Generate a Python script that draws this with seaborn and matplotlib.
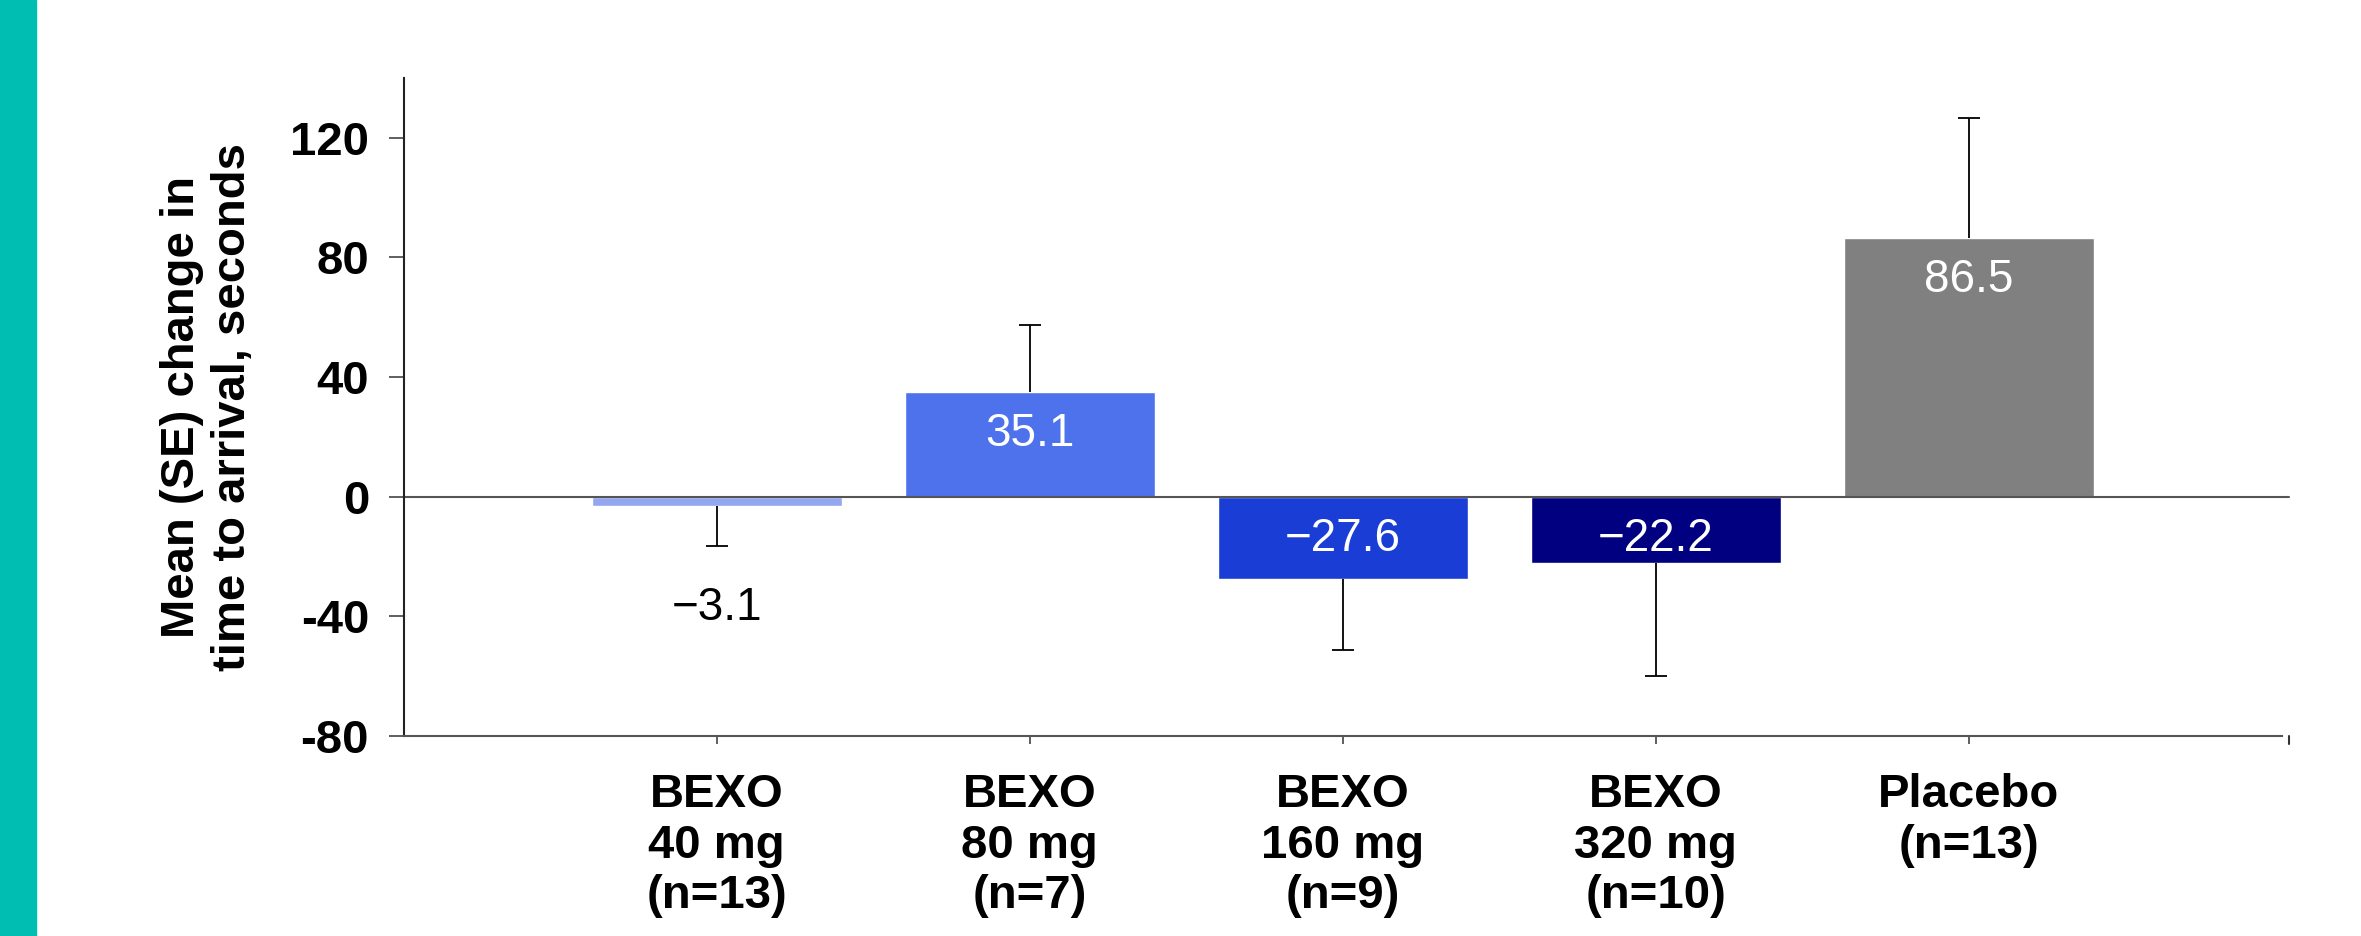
import matplotlib
matplotlib.use("Agg")
import matplotlib.pyplot as plt
import seaborn as sns
import pandas as pd

# data
groups = ["BEXO\n40 mg\n(n=13)", "BEXO\n80 mg\n(n=7)", "BEXO\n160 mg\n(n=9)",
          "BEXO\n320 mg\n(n=10)", "Placebo\n(n=13)"]
means = [-3.1, 35.1, -27.6, -22.2, 86.5]
se = [13.5, 22.2, 23.7, 37.6, 40.1]
bar_colors = ["#94A6F0", "#4E72EC", "#1A3DD6", "#000080", "#808080"]
label_colors = ["black", "white", "white", "white", "white"]

df = pd.DataFrame({"group": groups, "mean": means, "se": se})

sns.set_style("white")
plt.rcParams["font.family"] = ["Liberation Sans", "DejaVu Sans"]
plt.rcParams["text.color"] = "black"
plt.rcParams["axes.labelcolor"] = "black"
plt.rcParams["xtick.color"] = "black"
plt.rcParams["ytick.color"] = "black"

fig = plt.figure(figsize=(23.61, 9.36), dpi=100)
ax = fig.add_axes([0.171, 0.2137, 0.7955, 0.703])

sns.barplot(data=df, x="group", y="mean", hue="group", palette=bar_colors,
            legend=False, width=0.8, saturation=1, errorbar=None, ax=ax)

# one-sided SE bars, pointing away from zero, cap only at the far end
for i, (m, s) in enumerate(zip(means, se)):
    end = m + s if m >= 0 else m - s
    ax.vlines(i, m, end, color="black", lw=1.3, zorder=3)
    ax.plot(i, end, marker="_", markersize=16, mew=1.3, color="black", zorder=3)

# value labels
for i, m in enumerate(means):
    if i == 0:
        y = m - 34
    elif m >= 0:
        y = m - 14
    else:
        y = -14
    ax.text(i, y, f"{m:.1f}".replace("-", "\u2212"), ha="center", va="center",
            fontsize=33, color=label_colors[i])

# zero line with a small end tick
ax.axhline(0, xmin=0, xmax=1.004, color="#555555", lw=1.5, clip_on=False, zorder=2)
ax.plot([1.004, 1.004], [0, -0.012], transform=ax.transAxes, color="#333333",
        lw=1.5, clip_on=False)

ax.set_xlim(-1, 5)
ax.set_ylim(-80, 140)
ax.set_yticks([-80, -40, 0, 40, 80, 120])
ax.set_yticklabels(["-80", "-40", "0", "40", "80", "120"])

for side in ["top", "right"]:
    ax.spines[side].set_visible(False)
ax.spines["left"].set_color("#222222")
ax.spines["bottom"].set_color("#555555")
ax.spines["left"].set_linewidth(1.5)
ax.spines["bottom"].set_linewidth(1.5)

ax.tick_params(axis="y", direction="out", length=11, width=1.2, color="#444444",
               labelcolor="black", labelsize=34, pad=14, left=True)
ax.tick_params(axis="x", direction="out", length=6, width=1.2, color="#444444",
               labelcolor="black", labelsize=34, pad=21, bottom=True)
for lab in ax.get_xticklabels() + ax.get_yticklabels():
    lab.set_fontweight("bold")
for lab in ax.get_xticklabels():
    lab.set_linespacing(1.19)
    lab.set_verticalalignment("top")

ax.set_xlabel("")
ax.set_ylabel("Mean (SE) change in\ntime to arrival, seconds", fontsize=34,
              fontweight="bold", linespacing=1.22, color="black")
ax.yaxis.set_label_coords(-0.079, 0.5)

# teal strip on the left edge
fig.patches.append(plt.Rectangle((0, 0), 36 / 2361, 1, transform=fig.transFigure,
                                 color="#00BFB2", zorder=0))

fig.savefig("out.png", dpi=100)
